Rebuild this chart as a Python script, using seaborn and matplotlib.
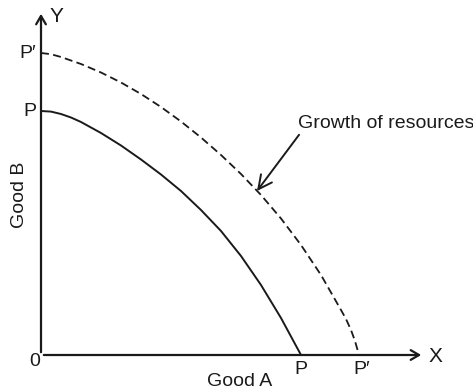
import matplotlib
matplotlib.use('Agg')
import matplotlib.pyplot as plt
import numpy as np
import seaborn as sns
import pandas as pd

# points (units: Good A / Good B, origin at 0)
good_a_old = [0, 10, 20, 30, 40, 60, 80, 100, 120, 140, 160, 180, 200, 220, 240, 260]
good_b_old = [244, 243.4, 241, 237.5, 233, 222, 209.5, 195.5, 180.5, 164, 145, 124, 99, 70, 37, 0]

good_a_new = [0, 10, 20, 40, 60, 80, 100, 120, 140, 160, 180, 200, 220, 240, 260, 280, 300,
              305, 310, 314, 318]
good_b_new = [302, 300.8, 298, 291, 282.5, 272.5, 261, 248, 233.5, 217.5, 200, 181, 160, 136.5,
              110, 80, 45, 36, 25, 14, 0]

ppf_old = pd.DataFrame({'Good A': good_a_old, 'Good B': good_b_old})
ppf_new = pd.DataFrame({'Good A': good_a_new, 'Good B': good_b_new})

sns.set_style('white')
plt.rcParams['font.family'] = ['Liberation Sans', 'DejaVu Sans']

fig = plt.figure(figsize=(4.73, 3.9), dpi=100)
ax = fig.add_axes([0, 0, 1, 1])
ax.set_xlim(-41, 432)
ax.set_ylim(-35, 355)
ax.axis('off')

ink = '#1a1a1a'
sns.lineplot(data=ppf_old, x='Good A', y='Good B', ax=ax, color=ink, lw=1.4, sort=False)
sns.lineplot(data=ppf_new, x='Good A', y='Good B', ax=ax, color=ink, lw=1.3, sort=False,
             linestyle=(0, (4.4, 2.4)))

# axes with open arrow heads
ax.annotate('', xy=(0, 344), xytext=(0, 0),
            arrowprops=dict(arrowstyle='->,head_length=0.6,head_width=0.35', color=ink, lw=1.6))
ax.annotate('', xy=(383, 0), xytext=(0, 0),
            arrowprops=dict(arrowstyle='->,head_length=0.6,head_width=0.35', color=ink, lw=1.6))

fs = 14
ax.text(9, 338, 'Y', fontsize=fs + 1, ha='left', va='center', color=ink)
ax.text(388, -2, 'X', fontsize=fs + 1, ha='left', va='center', color=ink)
ax.text(-6, -7, '0', fontsize=fs, ha='center', va='center', color=ink)
ax.text(-5, 302, 'P′', fontsize=fs, ha='right', va='center', color=ink)
ax.text(-5, 243, 'P', fontsize=fs, ha='right', va='center', color=ink)
ax.text(260, -14, 'P', fontsize=fs, ha='center', va='center', color=ink)
ax.text(321, -14, 'P′', fontsize=fs, ha='center', va='center', color=ink)
ax.text(199, -26, 'Good A', fontsize=fs, ha='center', va='center', color=ink)
ax.text(-21, 160, 'Good B', fontsize=fs, ha='center', va='center', rotation=90, color=ink)

ax.annotate('Growth of resources', xy=(216, 164), xytext=(257, 232),
            fontsize=fs, ha='left', va='center', color=ink,
            arrowprops=dict(arrowstyle='->,head_length=0.7,head_width=0.35', color=ink, lw=1.4,
                            shrinkA=0, shrinkB=0, relpos=(0.02, 0.0)))

fig.savefig('out.png', dpi=100, facecolor='white')
